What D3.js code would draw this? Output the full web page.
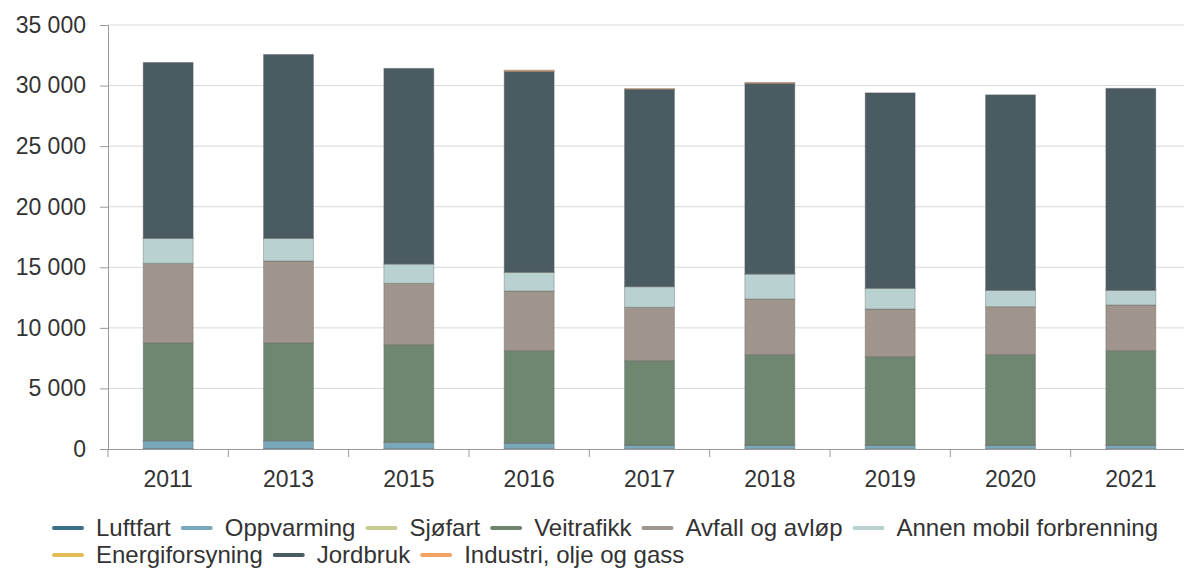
<!DOCTYPE html>
<html>
<head>
<meta charset="utf-8">
<script src="https://cdn.jsdelivr.net/npm/d3@7"></script>
<style>
  html, body { margin: 0; padding: 0; background: #fff; }
  svg text { font-family: "Liberation Sans", Arial, sans-serif; fill: #333; }
</style>
</head>
<body>
<div id="chart"></div>
<script>
// Data
const years = ["2011", "2013", "2015", "2016", "2017", "2018", "2019", "2020", "2021"];
const seriesNames = ["Luftfart", "Oppvarming", "Sjøfart", "Veitrafikk", "Avfall og avløp",
  "Annen mobil forbrenning", "Energiforsyning", "Jordbruk", "Industri, olje og gass"];
const luftfart    = [40, 40, 30, 30, 20, 20, 20, 20, 20];
const oppvarming  = [640, 640, 515, 465, 280, 280, 280, 280, 280];
const sjofart     = [10, 10, 10, 10, 10, 10, 10, 10, 10];
const veitrafikk  = [8090, 8090, 8065, 7620, 6990, 7485, 7320, 7485, 7815];
const avfall      = [6550, 6740, 5060, 4920, 4400, 4590, 3930, 3955, 3765];
const annenMobil  = [2060, 1870, 1590, 1540, 1700, 2060, 1705, 1350, 1210];
const energi      = [10, 10, 10, 10, 10, 10, 10, 10, 10];
const jordbruk    = [14510, 15170, 16140, 16575, 16290, 15725, 16125, 16125, 16660];
const industri    = [0, 0, 0, 100, 50, 80, 0, 0, 0];
const yTicks = [0, 5000, 10000, 15000, 20000, 25000, 30000, 35000];

const colors = ["#3b7186", "#78a8ba", "#c9cc8f", "#6f8670", "#a0958c",
  "#b9d2d1", "#e2bd55", "#4b5b62", "#f2a263"];

const width = 1184;
const height = 568;
const margin = {top: 25, right: -7, bottom: 119, left: 108};

const svg = d3.select("#chart")
  .append("svg")
  .attr("width", width)
  .attr("height", height);

// Build rows for the stack
const allSeries = [luftfart, oppvarming, sjofart, veitrafikk, avfall, annenMobil, energi, jordbruk, industri];
const rows = years.map((y, i) => {
  const r = {year: y};
  seriesNames.forEach((s, j) => { r[s] = allSeries[j][i]; });
  return r;
});
const stacked = d3.stack().keys(seriesNames)(rows);

const x = d3.scaleBand()
  .domain(years)
  .range([margin.left, width - margin.right])
  .paddingInner(0.585)
  .paddingOuter(0.2925);

const y = d3.scaleLinear()
  .domain([0, 35000])
  .range([height - margin.bottom, margin.top]);

const fmt = v => d3.format(",")(v).replace(/,/g, "\u00a0");

// Gridlines
svg.append("g")
  .selectAll("line")
  .data(yTicks.slice(1))
  .enter()
  .append("line")
  .attr("x1", margin.left)
  .attr("x2", width)
  .attr("y1", d => y(d))
  .attr("y2", d => y(d))
  .attr("stroke", "#d9d9d9")
  .attr("stroke-width", 1);

// Bars
svg.append("g")
  .selectAll("g")
  .data(stacked)
  .enter()
  .append("g")
  .attr("fill", (d, i) => colors[i])
  .selectAll("rect")
  .data(d => d)
  .enter()
  .append("rect")
  .attr("x", d => x(d.data.year))
  .attr("y", d => y(d[1]))
  .attr("width", x.bandwidth())
  .attr("height", d => Math.max(0, y(d[0]) - y(d[1])))
  .attr("stroke", "#5a5a5a")
  .attr("stroke-opacity", 0.35)
  .attr("stroke-width", 1);

// Y axis
const yAxis = svg.append("g")
  .attr("transform", `translate(${margin.left},0)`)
  .call(d3.axisLeft(y).tickValues(yTicks).tickFormat(fmt).tickSize(8).tickPadding(14));
yAxis.select(".domain").attr("stroke", "#999");
yAxis.selectAll(".tick line").attr("stroke", "#999");
yAxis.selectAll("text").style("font-size", "23px").attr("fill", "#3a3a3a");

// X axis
const xAxis = svg.append("g")
  .attr("transform", `translate(0,${height - margin.bottom})`)
  .call(d3.axisBottom(x).tickSize(0).tickPadding(22));
xAxis.select(".domain").attr("d", `M${margin.left},0.5H${width}`).attr("stroke", "#999");
xAxis.selectAll("text").style("font-size", "23px").attr("fill", "#3a3a3a");
// ticks between categories
xAxis.selectAll(".sep")
  .data(years)
  .enter()
  .append("line")
  .attr("class", "sep")
  .attr("x1", d => x(d) - x.step() * x.paddingOuter())
  .attr("x2", d => x(d) - x.step() * x.paddingOuter())
  .attr("y1", 0)
  .attr("y2", 8)
  .attr("stroke", "#999");

// Legend
const legendRows = [seriesNames.slice(0, 6), seriesNames.slice(6)];
const legendY = [528, 555];
legendRows.forEach((names, r) => {
  let cx = 54;
  names.forEach(name => {
    const i = seriesNames.indexOf(name);
    const g = svg.append("g").attr("transform", `translate(${cx},${legendY[r]})`);
    g.append("line")
      .attr("x1", 0).attr("x2", 28)
      .attr("y1", 0).attr("y2", 0)
      .attr("stroke", colors[i])
      .attr("stroke-width", 4)
      .attr("stroke-linecap", "round");
    const t = g.append("text")
      .attr("x", 42)
      .attr("y", 8)
      .style("font-size", "24px")
      .attr("fill", "#3a3a3a")
      .text(name);
    cx += 42 + t.node().getComputedTextLength() + 12;
  });
});
</script>
</body>
</html>
